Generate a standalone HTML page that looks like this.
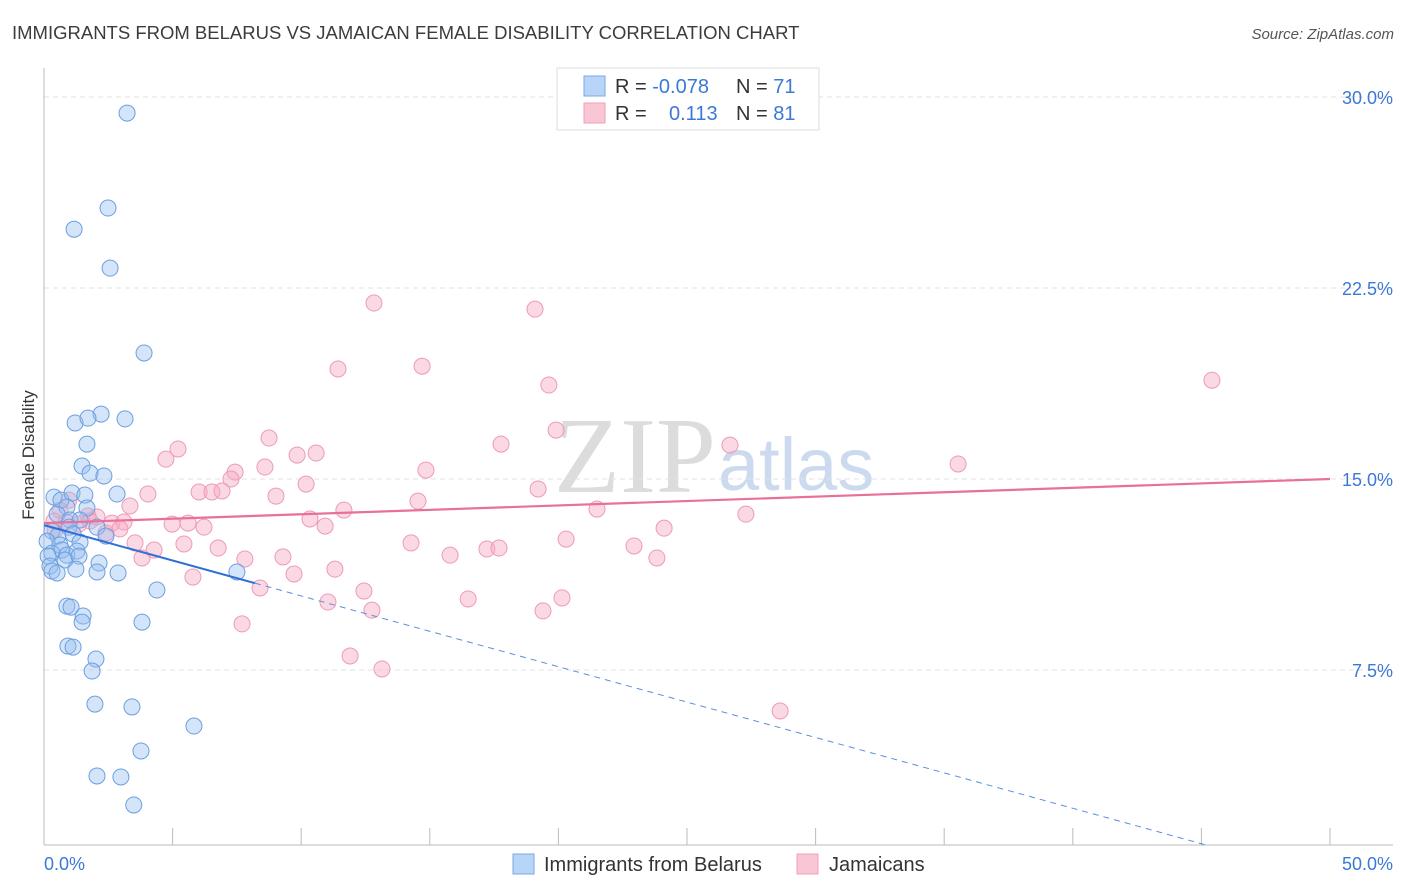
<!DOCTYPE html>
<html><head><meta charset="utf-8">
<style>
body{margin:0;background:#fff;font-family:"Liberation Sans",sans-serif;}
#wrap{position:relative;width:1406px;height:892px;overflow:hidden;}
</style></head>
<body>
<div id="wrap">
<svg id="svg" width="1406" height="892" xmlns="http://www.w3.org/2000/svg">
<text x="12" y="39" font-size="18.5" fill="#3c3c3c">IMMIGRANTS FROM BELARUS VS JAMAICAN FEMALE DISABILITY CORRELATION CHART</text>
<text x="1394" y="39" font-size="15" fill="#555" font-style="italic" text-anchor="end">Source: ZipAtlas.com</text>
<text x="716" y="492" font-size="108" fill="#dcdcdc" text-anchor="end" font-family="Liberation Serif">ZIP</text>
<text x="718" y="490" font-size="74" fill="#cbdaee">atlas</text>
<text transform="translate(34,455) rotate(-90)" font-size="17" fill="#333" text-anchor="middle">Female Disability</text>
<g id="grid"></g><g id="axes"></g><g id="pts"></g><g id="lines"></g>
<g>
<rect x="557" y="68" width="262" height="62" fill="#fff" stroke="#ddd"/>
<rect x="584" y="76" width="21" height="20" fill="#b8d4f6" stroke="#7aaae6"/>
<rect x="584" y="103" width="21" height="20" fill="#f9c6d6" stroke="#eda2ba"/>
<text x="615" y="93" font-size="20" fill="#333">R = <tspan fill="#3b78d8">-0.078</tspan></text>
<text x="736" y="93" font-size="20" fill="#333">N = <tspan fill="#3b78d8">71</tspan></text>
<text x="615" y="120" font-size="20" fill="#333">R = <tspan fill="#3b78d8" x="669">0.113</tspan></text>
<text x="736" y="120" font-size="20" fill="#333">N = <tspan fill="#3b78d8">81</tspan></text>
</g>
<g>
<rect x="513" y="854" width="21" height="20" fill="#b8d4f6" stroke="#7aaae6"/>
<text x="544" y="871" font-size="20" fill="#333">Immigrants from Belarus</text>
<rect x="797" y="854" width="21" height="20" fill="#f9c6d6" stroke="#eda2ba"/>
<text x="829" y="871" font-size="20" fill="#333">Jamaicans</text>
</g>
</svg>
</div>
<script>
const yTicks=[7.5,15,22.5,30];
const yTickLabels=["7.5%","15.0%","22.5%","30.0%"];
const xTicks=[0,5,10,15,20,25,30,35,40,45,50];
const blueX=[3.23,2.49,1.17,2.57,3.89,2.22,3.15,1.21,1.71,1.67,1.48,1.79,2.33,0.39,0.66,1.09,1.59,2.84,0.89,1.67,0.51,1.01,1.40,0.97,0.31,0.54,1.13,2.06,2.41,0.12,0.62,1.40,0.31,0.70,0.89,1.28,0.16,0.82,1.36,2.14,0.23,0.31,0.51,1.24,2.06,2.88,7.50,4.39,0.89,1.05,1.52,1.48,3.81,0.93,1.13,2.02,1.87,1.98,3.42,5.83,3.77,2.06,2.99,3.49];
const blueY=[29.37,25.64,24.81,23.28,19.95,17.55,17.36,17.20,17.39,16.37,15.51,15.23,15.12,14.29,14.17,14.45,14.37,14.41,13.90,13.86,13.62,13.39,13.39,13.11,12.96,12.76,12.84,13.11,12.76,12.56,12.41,12.52,12.09,12.21,12.01,12.17,11.97,11.82,11.97,11.70,11.58,11.39,11.31,11.46,11.35,11.31,11.35,10.64,10.01,9.97,9.62,9.38,9.38,8.44,8.40,7.93,7.46,6.16,6.05,5.30,4.32,3.34,3.30,2.20];
const pinkX=[12.83,19.09,14.70,11.43,45.41,19.63,19.91,26.67,17.77,8.75,5.21,10.58,9.84,4.74,35.54,8.59,14.85,7.43,7.27,10.19,19.21,4.04,6.03,6.53,6.92,9.02,14.54,11.66,0.97,0.62,21.50,27.29,3.34,1.71,2.06,10.34,10.93,2.64,3.11,4.98,5.60,6.22,24.11,1.36,0.39,0.43,2.41,3.54,20.30,14.27,5.44,4.28,6.77,22.94,17.22,17.69,15.79,9.29,7.81,3.81,23.83,11.31,9.72,5.79,8.40,12.44,11.04,16.49,20.14,12.75,19.40,7.70,11.90,13.14,28.62,1.79,2.95,0.86];
const pinkY=[21.91,21.67,19.43,19.32,18.88,18.69,16.92,16.33,16.37,16.61,16.18,16.02,15.94,15.78,15.59,15.47,15.35,15.27,15.00,14.80,14.61,14.41,14.49,14.49,14.53,14.33,14.13,13.78,14.17,13.78,13.82,13.62,13.94,13.55,13.51,13.43,13.15,13.27,13.31,13.23,13.27,13.11,13.07,13.23,13.35,13.00,12.88,12.49,12.64,12.49,12.45,12.21,12.29,12.37,12.25,12.29,12.01,11.94,11.86,11.90,11.90,11.46,11.27,11.15,10.72,10.60,10.17,10.29,10.33,9.85,9.82,9.31,8.05,7.54,5.89,13.35,13.04,13.31];
const blueLine=[13.19,-0.278,8.2,45.3];
const pinkLine=[13.27,0.0346];
const X=v=>44+v*25.72, Y=v=>861-v*25.466;
const NS="http://www.w3.org/2000/svg";
function mk(parent,tag,attrs){const e=document.createElementNS(NS,tag);for(const k in attrs)e.setAttribute(k,attrs[k]);document.getElementById(parent).appendChild(e);return e;}
yTicks.forEach((t,i)=>{
 const g=mk('grid','line',{x1:44,x2:1393,y1:Y(t),y2:Y(t),stroke:'#e2e2e2','stroke-dasharray':'5,4'});
 
 
 const l=mk('grid','text',{x:1393,y:Y(t)+7,'font-size':18,fill:'#3b78d8','text-anchor':'end'});
 l.textContent=yTickLabels[i];
 
 
});
const ax=mk('axes','line',{x1:44,x2:1393,y1:845,y2:845,stroke:'#bbb'});


const ay=mk('axes','line',{x1:44,x2:44,y1:68,y2:845,stroke:'#bbb'});


xTicks.forEach(t=>{const e=mk('axes','line',{x1:X(t),x2:X(t),y1:828,y2:845,stroke:'#bbb'});
 
 });
const xl0=mk('axes','text',{x:44,y:870,'font-size':18,fill:'#3b78d8'});xl0.textContent='0.0%';


const xl1=mk('axes','text',{x:1393,y:870,'font-size':18,fill:'#3b78d8','text-anchor':'end'});xl1.textContent='50.0%';


pinkX.forEach((x,i)=>{const c=mk('pts','circle',{cx:X(x),cy:Y(pinkY[i]),r:8,fill:'rgba(246,170,196,0.45)',stroke:'#ee9ab6','stroke-width':1});
 
 });
blueX.forEach((x,i)=>{const c=mk('pts','circle',{cx:X(x),cy:Y(blueY[i]),r:8,fill:'rgba(150,190,240,0.4)',stroke:'#6c9fe0','stroke-width':1});
 
 });
const b=blueLine;
const bl=mk('lines','line',{x1:X(0),y1:Y(b[0]),x2:X(b[2]),y2:Y(b[0]+b[1]*b[2]),stroke:'#2f6fd6','stroke-width':2});


const bd=mk('lines','line',{x1:X(b[2]),y1:Y(b[0]+b[1]*b[2]),x2:X(b[3]),y2:Y(b[0]+b[1]*b[3]),stroke:'#5a8fe0','stroke-width':1,'stroke-dasharray':'6,5'});


const pl=mk('lines','line',{x1:X(0),y1:Y(pinkLine[0]),x2:X(50),y2:Y(pinkLine[0]+pinkLine[1]*50),stroke:'#e8709a','stroke-width':2.2});


</script>
</body></html>
